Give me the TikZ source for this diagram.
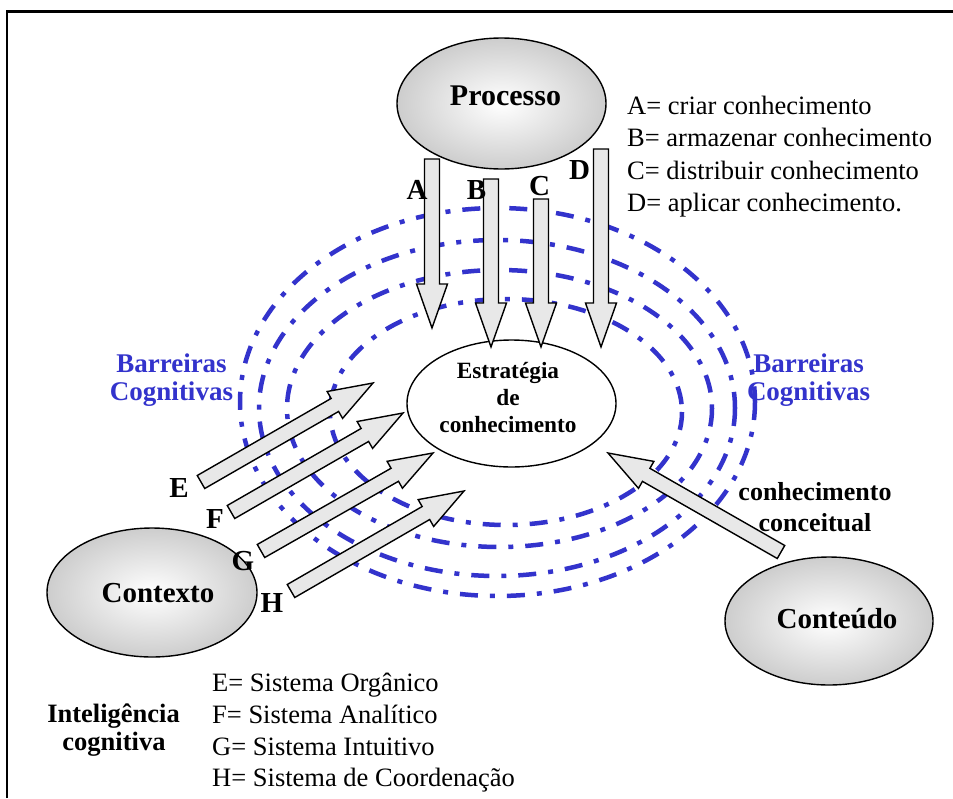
\documentclass[tikz,border=0pt]{standalone}
\usepackage{fontspec}
\setmainfont{Liberation Serif}
\usetikzlibrary{calc,shapes.geometric}

\definecolor{barrier}{RGB}{51,51,204}
\definecolor{arrowfill}{RGB}{232,232,232}
\definecolor{bubbleedge}{RGB}{205,205,205}

% block arrow drawn from a named tail coordinate to a named tip coordinate
\newcommand\blockarrow[2]{%
  \coordinate (#1-neck) at ($(#2)!44pt!(#1)$);
  \draw[blockarr]
    ($(#1)!7.5pt!90:(#2)$) -- ($(#1-neck)!7.5pt!90:(#2)$) --
    ($(#1-neck)!15.5pt!90:(#2)$) -- (#2) --
    ($(#1-neck)!15.5pt!-90:(#2)$) -- ($(#1-neck)!7.5pt!-90:(#2)$) --
    ($(#1)!7.5pt!-90:(#2)$) -- cycle;}

\tikzset{
  bubble/.style={ellipse, draw=black, line width=1.4pt, inner sep=0pt,
                 inner color=white, outer color=bubbleedge},
  core/.style={ellipse, draw=black, line width=1.4pt, fill=white, inner sep=0pt},
  blockarr/.style={draw=black, line width=1.4pt, fill=arrowfill, line join=miter},
  ring/.style={draw=barrier, line width=4.5pt,
               dash pattern=on 18pt off 12pt on 5pt off 12pt},
  bigword/.style={anchor=base, inner sep=0pt, font=\fontsize{30}{34}\selectfont\bfseries},
  coreword/.style={anchor=base, inner sep=0pt, font=\fontsize{23.3}{27}\selectfont\bfseries},
  letter/.style={anchor=base, inner sep=0pt, font=\fontsize{29}{32}\selectfont\bfseries},
  legend/.style={anchor=base west, inner sep=0pt, font=\fontsize{26.5}{30}\selectfont},
  boldnote/.style={anchor=base, inner sep=0pt, font=\fontsize{26.5}{30}\selectfont\bfseries},
  barriernote/.style={anchor=base, inner sep=0pt, text=barrier,
                      font=\fontsize{27}{30}\selectfont\bfseries},
}

\begin{document}
\begin{tikzpicture}[x=1pt,y=-1pt]
\useasboundingbox (0,0) rectangle (953,798);
\fill[white] (0,0) rectangle (953,798);

% outer frame
\draw[line width=2.5pt, line join=miter] (7,798) -- (7,11.5) -- (953,11.5);

% cognitive barriers: four dash-dot rings
\draw[ring] (497.5,402) ellipse [x radius=257.5, y radius=194];
\draw[ring] (497,408) ellipse [x radius=238, y radius=168];
\draw[ring] (499.5,408.5) ellipse [x radius=212.5, y radius=138.5];
\draw[ring] (506,412) ellipse [x radius=176, y radius=113];

% main bubbles
\node[bubble, minimum width=209, minimum height=131] (processo) at (501.5,103.5) {};
\node[core,   minimum width=209, minimum height=127] (estrategia) at (511.5,403.5) {};
\node[bubble, minimum width=210, minimum height=129] (contexto) at (152,592.5) {};
\node[bubble, minimum width=208, minimum height=128] (conteudo) at (829,621) {};

\node[bigword] (processo-t) at (505.5,105) {Processo};
\node[bigword, font=\fontsize{29}{33}\selectfont\bfseries] (contexto-t) at (158,602) {Contexto};
\node[bigword, font=\fontsize{29}{33}\selectfont\bfseries] (conteudo-t) at (837,628) {Conteúdo};
\node[coreword] (est1) at (508,378) {Estratégia};
\node[coreword] (est2) at (508,405) {de};
\node[coreword] (est3) at (508,432) {conhecimento};

% process arrows A-D
\coordinate (tA) at (432,159); \coordinate (hA) at (432,328);
\coordinate (tB) at (491,179); \coordinate (hB) at (491,347);
\coordinate (tC) at (541,199); \coordinate (hC) at (541,347);
\coordinate (tD) at (601,149); \coordinate (hD) at (601,347);
\blockarrow{tA}{hA}
\blockarrow{tB}{hB}
\blockarrow{tC}{hC}
\blockarrow{tD}{hD}

% context arrows E-H
\coordinate (tE) at (201,482); \coordinate (hE) at (373,383);
\coordinate (tF) at (231,512); \coordinate (hF) at (403,413);
\coordinate (tG) at (261,551); \coordinate (hG) at (433,453);
\coordinate (tH) at (291,591); \coordinate (hH) at (464,491);
\blockarrow{tE}{hE}
\blockarrow{tF}{hF}
\blockarrow{tG}{hG}
\blockarrow{tH}{hH}

% content arrow
\coordinate (tK) at (781,552); \coordinate (hK) at (608,453);
\blockarrow{tK}{hK}

% arrow letters
\node[letter] (lA) at (417,199) {A};
\node[letter] (lB) at (476.5,199) {B};
\node[letter] (lC) at (539.5,195) {C};
\node[letter] (lD) at (579.5,179) {D};
\node[letter] (lE) at (179,497) {E};
\node[letter] (lF) at (215,528) {F};
\node[letter] (lG) at (243,570) {G};
\node[letter] (lH) at (272,612) {H};

% barrier captions
\node[barriernote] (bl1) at (171.5,372) {Barreiras};
\node[barriernote] (bl2) at (171.5,400) {Cognitivas};
\node[barriernote] (br1) at (808.5,372) {Barreiras};
\node[barriernote] (br2) at (808.5,400) {Cognitivas};

% content caption
\node[boldnote, font=\fontsize{26}{30}\selectfont\bfseries] (cc1) at (815,500) {conhecimento};
\node[boldnote, font=\fontsize{26}{30}\selectfont\bfseries] (cc2) at (815,531) {conceitual};

% cognitive intelligence caption
\node[boldnote] (ic1) at (113.5,722) {Inteligência};
\node[boldnote] (ic2) at (114,750) {cognitiva};

% legends
\node[legend] (legA) at (627,114) {A= criar conhecimento};
\node[legend] (legB) at (627,146.5) {B= armazenar conhecimento};
\node[legend] (legC) at (627,179) {C= distribuir conhecimento};
\node[legend] (legD) at (627,211) {D= aplicar conhecimento.};

\node[legend] (legE) at (212,691.5) {E= Sistema Orgânico};
\node[legend] (legF) at (212,723) {F= Sistema Analítico};
\node[legend] (legG) at (212,755) {G= Sistema Intuitivo};
\node[legend] (legH) at (212,786.5) {H= Sistema de Coordenação};
\end{tikzpicture}
\end{document}
